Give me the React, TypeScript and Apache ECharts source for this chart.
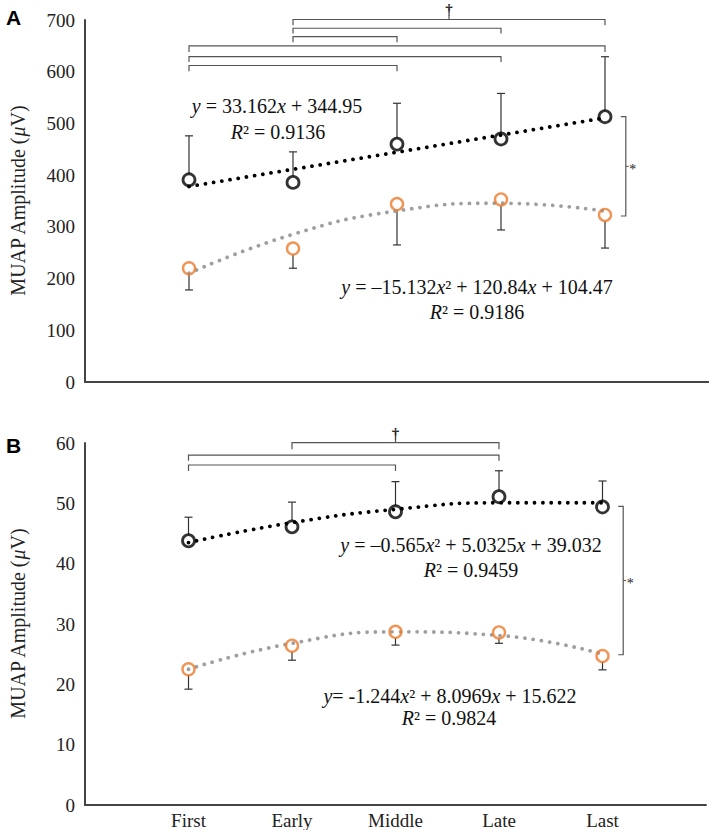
import React, { useEffect, useRef } from "react";
import * as echarts from "echarts";

const categories = ["First", "Early", "Middle", "Late", "Last"];
const xPos = [1, 2, 3, 4, 5];

// Panel A
const blackA = [391, 386, 460, 470, 513];
const blackAErrTop = [476, 445, 539, 558, 629];
const orangeA = [220, 258, 344, 353, 323];
const orangeAErrBottom = [178, 220, 265, 294, 259];
const trendBlackA = [378.1, 411.3, 444.4, 477.6, 510.8];
const trendOrangeA = [210.2, 285.6, 330.8, 345.7, 330.4];
// brackets: [from, to, row level, leg end]
const bracketsA = [
  [2, 5, 701, 690],
  [2, 4, 684, 674],
  [2, 3, 668, 657],
  [1, 5, 650, 638],
  [1, 4, 629, 619],
  [1, 3, 612, 601],
];
const daggerA = [[3.5, 701]];
const sigA = [[5.2, 513, 321]];

// Panel B
const blackB = [43.8, 46.1, 48.6, 51.1, 49.4];
const blackBErrTop = [47.7, 50.2, 53.6, 55.4, 53.7];
const orangeB = [22.5, 26.4, 28.7, 28.6, 24.7];
const orangeBErrBottom = [19.2, 24.0, 26.5, 26.8, 22.4];
const trendBlackB = [43.5, 46.8, 49.0, 50.1, 50.1];
const trendOrangeB = [22.5, 26.8, 28.7, 28.1, 25.0];
const bracketsB = [
  [2, 4, 60.05, 58.95],
  [1, 4, 58.0, 57.05],
  [1, 3, 56.35, 55.35],
];
const daggerB = [[3, 60.05]];
const sigB = [[5.2, 49.5, 24.9]];

const eqA1 = ["{i|y}{n| = 33.162}{i|x}{n| + 344.95}", "{i|R}{n|² = 0.9136}"];
const eqA2 = ["{i|y}{n| = –15.132}{i|x}{n|² + 120.84}{i|x}{n| + 104.47}", "{i|R}{n|² = 0.9186}"];
const eqB1 = ["{i|y}{n| = –0.565}{i|x}{n|² + 5.0325}{i|x}{n| + 39.032}", "{i|R}{n|² = 0.9459}"];
const eqB2 = ["{i|y}{n|= -1.244}{i|x}{n|² + 8.0969}{i|x}{n| + 15.622}", "{i|R}{n|² = 0.9824}"];

const SERIF = "Liberation Serif";
const ORANGE = "#EC7A2C";
const GRAY = "#9f9f9f";
const LINE = "#444";

const errRender = (params: any, api: any) => {
  const x = api.value(0);
  const p = api.coord([x, api.value(1)]);
  const q = api.coord([x, api.value(2)]);
  const dir = q[1] > p[1] ? 1 : -1;
  const r = 6;
  return {
    type: "group",
    children: [
      { type: "line", shape: { x1: p[0], y1: p[1] + dir * r, x2: q[0], y2: q[1] }, style: { stroke: "#333", lineWidth: 1.2 } },
      { type: "line", shape: { x1: q[0] - 4, y1: q[1], x2: q[0] + 4, y2: q[1] }, style: { stroke: "#333", lineWidth: 1.2 } },
    ],
  };
};

const bracketRender = (params: any, api: any) => {
  const a = api.coord([api.value(0), api.value(3)]);
  const b = api.coord([api.value(0), api.value(2)]);
  const c = api.coord([api.value(1), api.value(2)]);
  const d = api.coord([api.value(1), api.value(3)]);
  return {
    type: "polyline",
    shape: { points: [a, b, c, d] },
    style: { stroke: "#555", lineWidth: 1.2, fill: null },
  };
};

const daggerRender = (params: any, api: any) => {
  const p = api.coord([api.value(0), api.value(1)]);
  return {
    type: "group",
    children: [
      { type: "line", shape: { x1: p[0], y1: p[1], x2: p[0], y2: p[1] - 5 }, style: { stroke: "#555", lineWidth: 1.2 } },
      {
        type: "text",
        x: p[0],
        y: p[1] - 10,
        style: { text: "†", fontFamily: SERIF, fontSize: 15, fontWeight: "bold", fill: "#222", align: "center", verticalAlign: "middle" },
      },
    ],
  };
};

const sigRender = (params: any, api: any) => {
  const xl = api.value(0);
  const top = api.coord([xl, api.value(1)]);
  const bot = api.coord([xl, api.value(2)]);
  const midY = (top[1] + bot[1]) / 2;
  return {
    type: "group",
    children: [
      {
        type: "polyline",
        shape: { points: [[top[0] - 5, top[1]], [top[0], top[1]], [bot[0], bot[1]], [bot[0] - 5, bot[1]]] },
        style: { stroke: "#555", lineWidth: 1.2, fill: null },
      },
      { type: "line", shape: { x1: top[0], y1: midY, x2: top[0] + 3, y2: midY }, style: { stroke: "#555", lineWidth: 1 } },
      {
        type: "text",
        x: top[0] + 7,
        y: midY + 3,
        style: { text: "*", fontFamily: SERIF, fontSize: 14, fill: "#222", align: "center", verticalAlign: "middle" },
      },
    ],
  };
};

const rich = {
  i: { fontStyle: "italic", fontFamily: SERIF, fontSize: 20, fill: "#111", color: "#111" },
  n: { fontStyle: "normal", fontFamily: SERIF, fontSize: 20, fill: "#111", color: "#111" },
};

const eqText = (text: string, x: number, y: number) => ({
  type: "text",
  x,
  y,
  style: {
    text,
    fontFamily: SERIF,
    fontSize: 20,
    fill: "#111",
    align: "center",
    verticalAlign: "middle",
    rich,
  },
});

export default function App() {
  const ref = useRef<HTMLDivElement>(null);
  useEffect(() => {
    if (!ref.current) return;
    const chart = echarts.init(ref.current, undefined, { renderer: "svg" });
    const pair = (ys: number[]) => xPos.map((x, i) => [x, ys[i]]);
    const triple = (ys: number[], es: number[]) => xPos.map((x, i) => [x, ys[i], es[i]]);

    const xAxisBase = {
      type: "value",
      min: 0,
      max: 6,
      interval: 1,
      axisLine: { show: true, lineStyle: { color: LINE, width: 2 } },
      axisTick: { show: false },
      splitLine: { show: false },
    };
    const yAxisBase = {
      type: "value",
      min: 0,
      axisLine: { show: true, lineStyle: { color: LINE, width: 2 } },
      axisTick: { show: false },
      splitLine: { show: false },
      axisLabel: { fontFamily: SERIF, fontSize: 19, color: "#222", margin: 10 },
      name: "MUAP Amplitude ({i|μ}V)",
      nameLocation: "middle",
      nameRotate: 90,
      nameGap: 57,
      nameTextStyle: {
        fontFamily: SERIF,
        fontSize: 20,
        color: "#222",
        rich: { i: { fontFamily: SERIF, fontSize: 20, fontStyle: "italic", color: "#222" } },
      },
    };

    const panelSeries = (
      idx: number,
      black: number[],
      blackErr: number[],
      orange: number[],
      orangeErr: number[],
      tBlack: number[],
      tOrange: number[],
      smoothBlack: boolean,
      brackets: number[][],
      dagger: number[][],
      sig: number[][]
    ) => [
      { type: "custom", xAxisIndex: idx, yAxisIndex: idx, renderItem: errRender, data: triple(black, blackErr), z: 2, silent: true },
      { type: "custom", xAxisIndex: idx, yAxisIndex: idx, renderItem: errRender, data: triple(orange, orangeErr), z: 2, silent: true },
      {
        type: "line",
        xAxisIndex: idx,
        yAxisIndex: idx,
        data: pair(tBlack),
        symbol: "none",
        smooth: smoothBlack ? 0.5 : false,
        lineStyle: { color: "#000", width: 3.8, type: [0.01, 8.3], cap: "round" },
        z: 3,
        silent: true,
      },
      {
        type: "line",
        xAxisIndex: idx,
        yAxisIndex: idx,
        data: pair(tOrange),
        symbol: "none",
        smooth: 0.5,
        lineStyle: { color: GRAY, width: 3.8, type: [0.01, 8.3], cap: "round" },
        z: 3,
        silent: true,
      },
      {
        type: "scatter",
        xAxisIndex: idx,
        yAxisIndex: idx,
        data: pair(black),
        symbol: "circle",
        symbolSize: 12,
        itemStyle: { color: "rgba(255,255,255,0)", borderColor: "#000", borderWidth: 2.8 },
        z: 5,
      },
      {
        type: "scatter",
        xAxisIndex: idx,
        yAxisIndex: idx,
        data: pair(orange),
        symbol: "circle",
        symbolSize: 12,
        itemStyle: { color: "rgba(255,255,255,0)", borderColor: ORANGE, borderWidth: 2.4 },
        z: 5,
      },
      { type: "custom", xAxisIndex: idx, yAxisIndex: idx, renderItem: bracketRender, data: brackets, clip: false, z: 2, silent: true },
      { type: "custom", xAxisIndex: idx, yAxisIndex: idx, renderItem: daggerRender, data: dagger, clip: false, z: 2, silent: true },
      { type: "custom", xAxisIndex: idx, yAxisIndex: idx, renderItem: sigRender, data: sig, clip: false, z: 2, silent: true },
    ];

    chart.setOption({
      animation: false,
      textStyle: { fontFamily: SERIF },
      grid: [
        { left: 78, right: 0, top: 20, height: 362 },
        { left: 78, right: 0, top: 443, height: 362 },
      ],
      xAxis: [
        { ...xAxisBase, gridIndex: 0, axisLabel: { show: false } },
        {
          ...xAxisBase,
          gridIndex: 1,
          axisLabel: {
            show: true,
            fontFamily: SERIF,
            fontSize: 19,
            color: "#222",
            margin: 6,
            formatter: (v: number) => categories[v - 1] ?? "",
          },
        },
      ],
      yAxis: [
        { ...yAxisBase, gridIndex: 0, max: 700, interval: 100 },
        { ...yAxisBase, gridIndex: 1, max: 60, interval: 10 },
      ],
      series: [
        ...panelSeries(0, blackA, blackAErrTop, orangeA, orangeAErrBottom, trendBlackA, trendOrangeA, false, bracketsA, daggerA, sigA),
        ...panelSeries(1, blackB, blackBErrTop, orangeB, orangeBErrBottom, trendBlackB, trendOrangeB, true, bracketsB, daggerB, sigB),
      ],
      graphic: [
        { type: "text", x: 6, y: 7, style: { text: "A", fontFamily: "Liberation Sans", fontSize: 21, fontWeight: "bold", fill: "#000" } },
        { type: "text", x: 6, y: 435, style: { text: "B", fontFamily: "Liberation Sans", fontSize: 21, fontWeight: "bold", fill: "#000" } },
        eqText(eqA1[0], 277, 106),
        eqText(eqA1[1], 278, 132),
        eqText(eqA2[0], 477, 287),
        eqText(eqA2[1], 477, 312),
        eqText(eqB1[0], 471, 545),
        eqText(eqB1[1], 471, 570),
        eqText(eqB2[0], 450, 696),
        eqText(eqB2[1], 449, 718),
      ],
    });
    return () => chart.dispose();
  }, []);
  return <div ref={ref} style={{ position: "fixed", left: 0, top: 0, width: 709, height: 830, background: "#fff" }} />;
}
